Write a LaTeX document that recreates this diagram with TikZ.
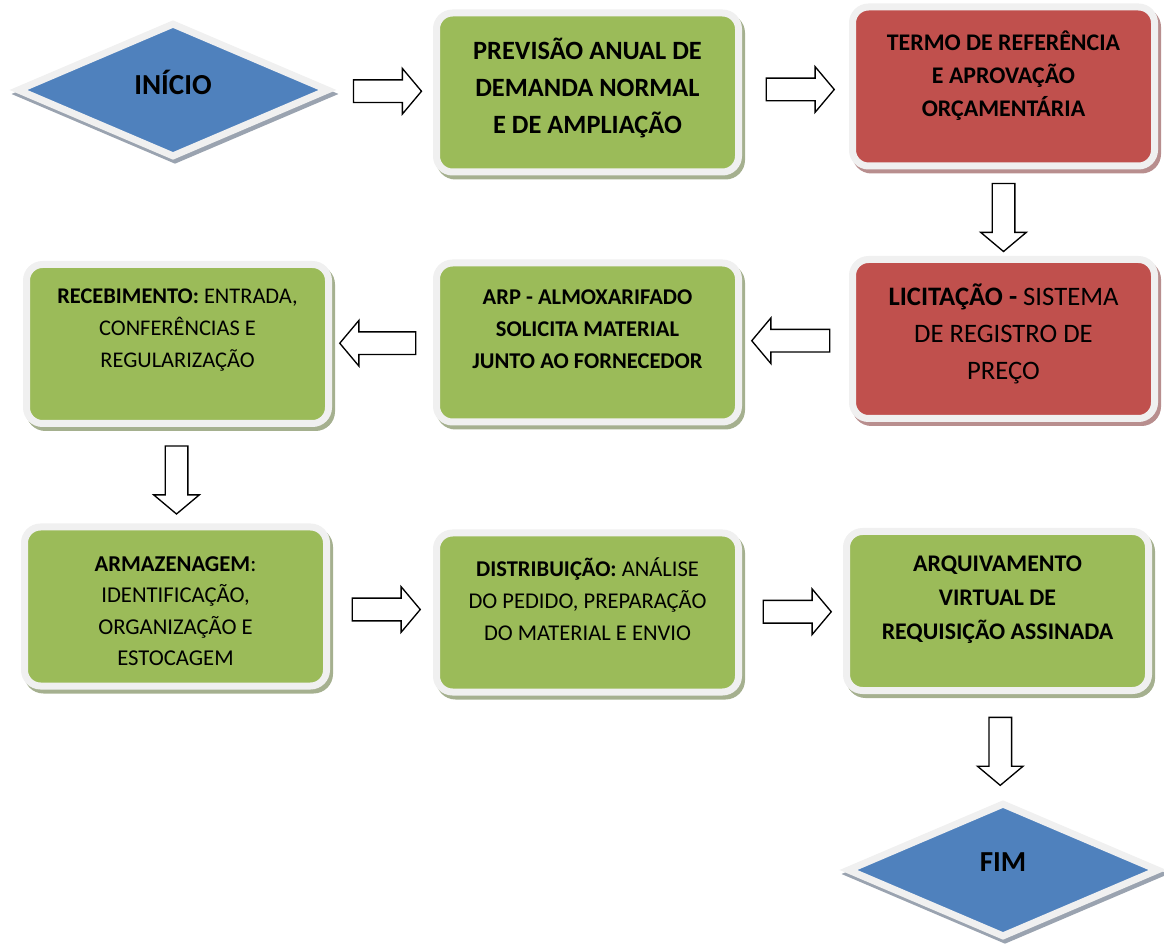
\documentclass[tikz,border=0pt]{standalone}
\usepackage{fontspec}
\setmainfont{Carlito}
\usepackage{tikz}
\usetikzlibrary{shapes,shapes.geometric,shapes.arrows,shadows,calc}

\definecolor{boxgreen}{HTML}{9BBB59}
\definecolor{boxred}{HTML}{C0504D}
\definecolor{boxblue}{HTML}{4F81BD}
\definecolor{framegray}{HTML}{F0F0F0}
\definecolor{greenshade}{HTML}{A5B08F}
\definecolor{redshade}{HTML}{B88E8E}
\definecolor{blueshade}{HTML}{9AA3B0}

\tikzset{
  stepbox/.style={rectangle, rounded corners=12pt, draw=framegray, line width=5.25pt,
    minimum width=226.5pt, minimum height=119.25pt, inner sep=0pt},
  greenbox/.style={stepbox, fill=boxgreen,
    drop shadow={shadow xshift=2.25pt, shadow yshift=-3pt, opacity=1, fill=greenshade, draw=greenshade}},
  redbox/.style={stepbox, fill=boxred,
    drop shadow={shadow xshift=2.25pt, shadow yshift=-3pt, opacity=1, fill=redshade, draw=redshade}},
  startend/.style={diamond, draw=framegray, line width=5.25pt, fill=boxblue, inner sep=0pt,
    minimum width=234pt, minimum height=101pt,
    drop shadow={shadow xshift=1.5pt, shadow yshift=-3pt, opacity=1, fill=blueshade, draw=blueshade}},
  steptext/.style={align=center, inner sep=0pt},
  blockarrow/.style={single arrow, draw=black, fill=white, line width=1pt,
    inner xsep=0pt, inner ysep=8pt,
    minimum height=51pt, single arrow head extend=8.6pt,
    single arrow tip angle=100},
}

\newcommand{\fontStart}{\fontsize{21.75}{26}\selectfont\bfseries}

\begin{document}
\begin{tikzpicture}[x=0.75pt, y=-0.75pt]
    \useasboundingbox (0,0) rectangle (1164,944);

    % Start and end
    \node[startend] (inicio) at (173,90) {};
    \node[startend] (fim) at (1003,870) {};

    % Process boxes
    \node[greenbox] (prev) at (587.5,92.5) {};
    \node[redbox] (termo) at (1003.5,86.5) {};
    \node[redbox] (licit) at (1003.5,339) {};
    \node[greenbox] (arp) at (587.5,342.5) {};
    \node[greenbox] (receb) at (177.5,344) {};
    \node[greenbox] (armaz) at (175.5,606.5) {};
    \node[greenbox] (dist) at (587.5,612.5) {};
    \node[greenbox] (arq) at (997.5,611) {};

    % Texts
    \node[steptext, font=\fontStart] (iniciotxt) at ($(inicio)+(0,-8)$) {INÍCIO};
    \node[steptext, font=\fontStart] (fimtxt) at ($(fim)+(0,-8)$) {FIM};
    \node[steptext, font=\fontsize{19.8}{27.75}\selectfont\bfseries] (prevtxt) at ($(prev)+(0,-5)$)
        {PREVISÃO ANUAL DE\\DEMANDA NORMAL\\E DE AMPLIAÇÃO};
    \node[steptext, font=\fontsize{17.9}{24.75}\selectfont\bfseries] (termotxt) at ($(termo)+(0,-10.5)$)
        {TERMO DE REFERÊNCIA\\E APROVAÇÃO\\ORÇAMENTÁRIA};
    \node[steptext, font=\fontsize{20}{27.75}\selectfont] (licittxt) at ($(licit)+(0,-5.5)$)
        {\textbf{LICITAÇÃO -} SISTEMA\\DE REGISTRO DE\\PREÇO};
    \node[steptext, font=\fontsize{16.9}{24}\selectfont\bfseries] (arptxt) at ($(arp)+(0,-13.5)$)
        {ARP - ALMOXARIFADO\\SOLICITA MATERIAL\\JUNTO AO FORNECEDOR};
    \node[steptext, font=\fontsize{16.8}{24}\selectfont] (recebtxt) at ($(receb)+(0,-14)$)
        {\textbf{RECEBIMENTO:} ENTRADA,\\CONFERÊNCIAS E\\REGULARIZAÇÃO};
    \node[steptext, font=\fontsize{17}{23.6}\selectfont] (armaztxt) at ($(armaz)+(0,4.5)$)
        {\textbf{ARMAZENAGEM}:\\IDENTIFICAÇÃO,\\ORGANIZAÇÃO E\\ESTOCAGEM};
    \node[steptext, font=\fontsize{16.9}{24}\selectfont] (disttxt) at ($(dist)+(0,-13)$)
        {\textbf{DISTRIBUIÇÃO:} ANÁLISE\\DO PEDIDO, PREPARAÇÃO\\DO MATERIAL E ENVIO};
    \node[steptext, font=\fontsize{17.9}{25.5}\selectfont\bfseries] (arqtxt) at ($(arq)+(0,-11)$)
        {ARQUIVAMENTO\\VIRTUAL DE\\REQUISIÇÃO ASSINADA};

    % Block arrows between the steps
    \node[blockarrow] (a1) at ($(inicio.east)!0.5!(prev.west)$) {};
    \node[blockarrow] (a2) at ($(prev.east)!0.5!(termo.west)$) {};
    \node[blockarrow, rotate=-90] (a3) at ($(termo.south)!0.5!(licit.north)$) {};
    \node[blockarrow, rotate=180, minimum height=58.5pt] (a4) at ($(licit.west)!0.5!(arp.east)$) {};
    \node[blockarrow, rotate=180, minimum height=57pt] (a5) at ($(arp.west)!0.5!(receb.east)$) {};
    \node[blockarrow, rotate=-90] (a6) at ($(receb.south)!0.5!(armaz.north)$) {};
    \node[blockarrow] (a7) at ($(armaz.east)!0.5!(dist.west)$) {};
    \node[blockarrow] (a8) at ($(dist.east)!0.5!(arq.west)$) {};
    \node[blockarrow, rotate=-90] (a9) at ($(arq.south)!0.5!(fim.north)$) {};
\end{tikzpicture}
\end{document}
